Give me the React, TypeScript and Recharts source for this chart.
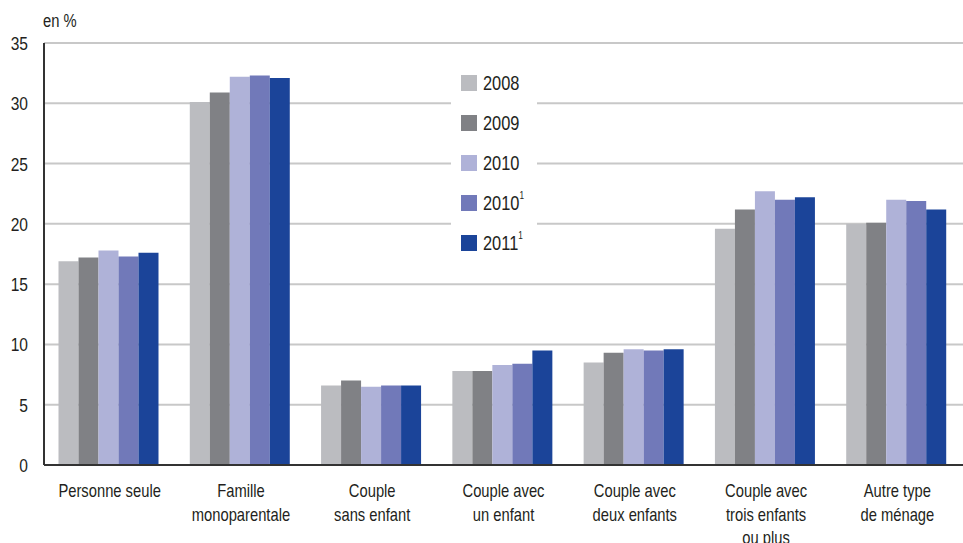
import { BarChart, Bar, XAxis, YAxis, CartesianGrid } from "recharts";

const CATEGORIES = [
    "Personne seule",
    "Famille\nmonoparentale",
    "Couple\nsans enfant",
    "Couple avec\nun enfant",
    "Couple avec\ndeux enfants",
    "Couple avec\ntrois enfants\nou plus",
    "Autre type\nde ménage",
];
const V2008 = [16.9, 30.1, 6.6, 7.8, 8.5, 19.6, 20.0];
const V2009 = [17.2, 30.9, 7.0, 7.8, 9.3, 21.2, 20.1];
const V2010 = [17.8, 32.2, 6.5, 8.3, 9.6, 22.7, 22.0];
const V2010B = [17.3, 32.3, 6.6, 8.4, 9.5, 22.0, 21.9];
const V2011B = [17.6, 32.1, 6.6, 9.5, 9.6, 22.2, 21.2];
const Y_TICKS = [0, 5, 10, 15, 20, 25, 30, 35];

const SERIES = [
    { key: "y2008", label: "2008", sup: "", color: "#bbbcc0", values: V2008 },
    { key: "y2009", label: "2009", sup: "", color: "#808185", values: V2009 },
    { key: "y2010", label: "2010", sup: "", color: "#afb2d8", values: V2010 },
    { key: "y2010b", label: "2010", sup: "1", color: "#7179b9", values: V2010B },
    { key: "y2011b", label: "2011", sup: "1", color: "#1b4499", values: V2011B },
];

const data = CATEGORIES.map((c, i) => {
    const row: Record<string, any> = { cat: c };
    SERIES.forEach(s => { row[s.key] = s.values[i]; });
    return row;
});

// Liberation Sans squeezed horizontally, to get near the condensed face of the original
const FONT = "'Liberation Sans', Arial, sans-serif";
const SQ = 0.82;
const INK = "#231f20";

function CatTick({ x, y, payload }: any) {
    const lines = String(payload.value).split("\n");
    return (
        <g transform={`translate(${x},${y}) scale(${SQ},1)`}>
            <text x={0} y={0} textAnchor="middle" fontFamily={FONT} fontSize={18} fill={INK}>
                {lines.map((l, i) => (
                    <tspan key={i} x={0} dy={i === 0 ? 24.5 : 23.5}>{l}</tspan>
                ))}
            </text>
        </g>
    );
}

function ValTick({ x, y, payload }: any) {
    return (
        <g transform={`translate(${x},${y}) scale(${SQ},1)`}>
            <text x={0} y={0} dy={7} textAnchor="end" fontFamily={FONT} fontSize={19} fill={INK}>{payload.value}</text>
        </g>
    );
}

function LegendBox() {
    return (
        <div style={{ position: "absolute", left: 451, top: 62, width: 86, height: 194, background: "#fff", fontFamily: FONT, fontSize: 20, color: INK }}>
            {SERIES.map((s, i) => (
                <div key={s.key} style={{ position: "absolute", left: 10, top: 13 + i * 40, height: 16, display: "flex", alignItems: "center" }}>
                    <span style={{ display: "inline-block", width: 16, height: 16, background: s.color, marginRight: 6 }} />
                    <span style={{ display: "inline-block", transform: `scaleX(${SQ})`, transformOrigin: "left center", whiteSpace: "nowrap", lineHeight: "16px" }}>
                        {s.label}{s.sup && <sup style={{ fontSize: 10, verticalAlign: "top", lineHeight: 1, position: "relative", top: -4 }}>{s.sup}</sup>}
                    </span>
                </div>
            ))}
        </div>
    );
}

export default function App() {
    return (
        <div style={{ position: "absolute", left: 0, top: 0, width: 963, height: 543, background: "#fff", overflow: "hidden" }}>
            <BarChart width={963} height={543} data={data} margin={{ top: 43, right: 0, left: 0, bottom: 0 }}
                barGap={0} barCategoryGap={14.5}>
                <CartesianGrid horizontal vertical={false} stroke="#c8c8c8" strokeWidth={2} />
                <XAxis dataKey="cat" tick={<CatTick />} tickLine={false} interval={0} height={78}
                    axisLine={{ stroke: "#333", strokeWidth: 2 }} />
                <YAxis domain={[0, 35]} ticks={Y_TICKS} width={44} tickLine={false} tickSize={0} tickMargin={16}
                    axisLine={{ stroke: "#333", strokeWidth: 2 }} tick={<ValTick />} />
                {SERIES.map(s => (
                    <Bar key={s.key} dataKey={s.key} fill={s.color} isAnimationActive={false} />
                ))}
            </BarChart>
            <div style={{ position: "absolute", left: 43, top: 11, fontFamily: FONT, fontSize: 18, color: INK, transform: `scaleX(${SQ})`, transformOrigin: "left top", whiteSpace: "nowrap" }}>en %</div>
            <LegendBox />
        </div>
    );
}
